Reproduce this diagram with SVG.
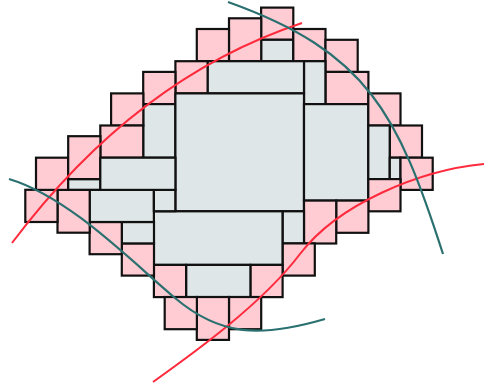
<svg xmlns="http://www.w3.org/2000/svg" width="484" height="389" viewBox="0 0 484 389">
<style>
.p{fill:#FFCCD3;stroke:#111;stroke-width:2.2}
.g{fill:#DEE6E7;stroke:#111;stroke-width:2.2}
.red{fill:none;stroke:#FF2A3C;stroke-width:2}
.teal{fill:none;stroke:#2B7070;stroke-width:2.2}
</style>
<rect width="484" height="389" fill="#fff"/>
<g id="tiles">
<rect class="p" x="261.1" y="7.6" width="32.2" height="32.2"/>
<rect class="g" x="261.1" y="39.8" width="32.2" height="21.4"/>
<rect class="p" x="229" y="18.3" width="32.2" height="42.9"/>
<rect class="p" x="196.8" y="29" width="32.2" height="32.2"/>
<rect class="p" x="293.3" y="29" width="32.2" height="32.2"/>
<rect class="p" x="325.5" y="39.8" width="32.2" height="32.2"/>
<rect class="p" x="325.5" y="71.9" width="42.9" height="32.2"/>
<rect class="g" x="304" y="61.2" width="21.4" height="42.9"/>
<rect class="g" x="207.5" y="61.2" width="96.5" height="32.2"/>
<rect class="p" x="175.4" y="61.2" width="32.2" height="32.2"/>
<rect class="p" x="143.2" y="71.9" width="32.2" height="32.2"/>
<rect class="g" x="143.2" y="104.1" width="32.2" height="53.6"/>
<rect class="p" x="111.1" y="93.4" width="32.2" height="32.2"/>
<rect class="p" x="100.3" y="125.5" width="42.9" height="32.2"/>
<rect class="g" x="175.4" y="93.4" width="128.6" height="117.9"/>
<rect class="g" x="304" y="104.1" width="64.3" height="96.5"/>
<rect class="p" x="368.3" y="93.4" width="32.2" height="32.2"/>
<rect class="p" x="389.8" y="125.5" width="32.2" height="32.2"/>
<rect class="g" x="368.3" y="125.5" width="21.4" height="53.6"/>
<rect class="g" x="389.8" y="157.7" width="10.7" height="21.4"/>
<rect class="p" x="400.5" y="157.7" width="32.2" height="32.2"/>
<rect class="p" x="368.3" y="179.1" width="32.2" height="32.2"/>
<rect class="p" x="336.2" y="200.6" width="32.2" height="32.2"/>
<rect class="p" x="304" y="200.6" width="32.2" height="42.9"/>
<rect class="g" x="282.6" y="211.3" width="21.4" height="32.2"/>
<rect class="p" x="282.6" y="243.4" width="32.2" height="32.2"/>
<rect class="g" x="153.9" y="211.3" width="128.6" height="53.6"/>
<rect class="p" x="250.4" y="264.9" width="32.2" height="32.2"/>
<rect class="g" x="186.1" y="264.9" width="64.3" height="32.2"/>
<rect class="p" x="153.9" y="264.9" width="32.2" height="32.2"/>
<rect class="p" x="229" y="297" width="32.2" height="32.2"/>
<rect class="p" x="196.8" y="297" width="32.2" height="42.9"/>
<rect class="p" x="164.7" y="297" width="32.2" height="32.2"/>
<rect class="p" x="121.8" y="243.4" width="32.2" height="32.2"/>
<rect class="g" x="121.8" y="222" width="32.2" height="21.4"/>
<rect class="p" x="89.6" y="222" width="32.2" height="32.2"/>
<rect class="g" x="89.6" y="189.8" width="64.3" height="32.2"/>
<rect class="g" x="153.9" y="189.8" width="21.4" height="21.4"/>
<rect class="p" x="57.5" y="189.8" width="32.2" height="42.9"/>
<rect class="p" x="25.3" y="189.8" width="32.2" height="32.2"/>
<rect class="p" x="36" y="157.7" width="32.2" height="32.2"/>
<rect class="g" x="68.2" y="179.1" width="32.2" height="10.7"/>
<rect class="p" x="68.2" y="136.2" width="32.2" height="42.9"/>
<rect class="g" x="100.3" y="157.7" width="75.1" height="32.2"/>
</g>
<g id="curves">
<path class="red" d="M12,243 Q136,78 302,23"/>
<path class="red" d="M153,382 C195,352 262,304 300,254 C338,204 420,170 484,164"/>
<path class="teal" d="M228,2 C368,52 398,114 443,254"/>
<path class="teal" d="M9,179 C69,197 130,260 175,298 C220,336 260,338 325,319"/>
</g>
</svg>
